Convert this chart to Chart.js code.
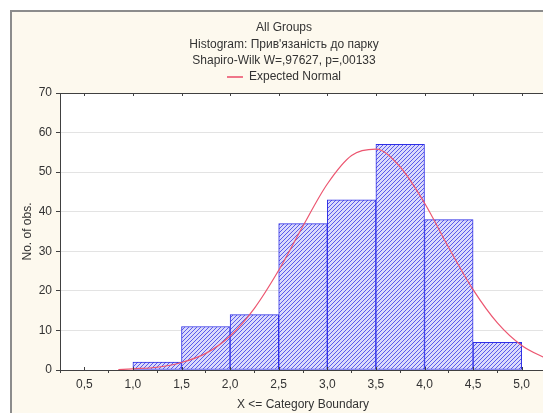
<!DOCTYPE html>
<html>
<head>
<meta charset="utf-8">
<script src="https://cdn.jsdelivr.net/npm/chart.js@4/dist/chart.umd.min.js"></script>
<style>
  html, body { margin: 0; padding: 0; background: #ffffff; overflow: hidden; }
  #wrap { position: absolute; left: 0; top: 0; width: 570px; height: 413px; }
</style>
</head>
<body>
<div id="wrap"><canvas id="c" width="570" height="413"></canvas></div>
<script>
// ---- data ----
const titleLines = ["All Groups", "Histogram: Прив'язаність до парку", "Shapiro-Wilk W=,97627, p=,00133"];
const xAxisTitle = "X <= Category Boundary";
const yAxisTitle = "No. of obs.";
const legendLabel = "Expected Normal";

// histogram: upper category boundary and count of observations
const binUpper = [1.5, 2.0, 2.5, 3.0, 3.5, 4.0, 4.5, 5.0];
const binCounts = [2, 11, 14, 37, 43, 57, 38, 7];
const binWidth = 0.5;

// expected normal curve
const curveX = [0.85, 1.0, 1.25, 1.5, 1.75, 2.0, 2.25, 2.5, 2.75, 3.0, 3.25, 3.5, 3.75, 4.0, 4.25, 4.5, 4.75, 5.0, 5.25];
const curveY = [0.1, 0.3, 0.7, 1.9, 4.2, 8.6, 15.6, 25.2, 36.4, 47.0, 54.2, 55.8, 51.3, 42.2, 30.9, 20.3, 11.9, 6.2, 2.9];

// axis ticks
const xTicks = [0.5, 1.0, 1.5, 2.0, 2.5, 3.0, 3.5, 4.0, 4.5, 5.0];
const yTicks = [0, 10, 20, 30, 40, 50, 60, 70];

// ---- styling ----
const FONT = "'Liberation Sans', Arial, sans-serif";
const TEXT = '#333333';
const FS = 12;
const RED = '#ec5670';

function hatch() {
  const s = 4;
  const c = document.createElement('canvas');
  c.width = s; c.height = s;
  const g = c.getContext('2d');
  g.fillStyle = '#dadafb';
  g.fillRect(0, 0, s, s);
  g.strokeStyle = '#5a5aec';
  g.lineWidth = 1;
  g.beginPath();
  g.moveTo(0, s); g.lineTo(s, 0);
  g.moveTo(-1, 1); g.lineTo(1, -1);
  g.moveTo(s - 1, s + 1); g.lineTo(s + 1, s - 1);
  g.stroke();
  return g.createPattern(c, 'repeat');
}

const framePlugin = {
  id: 'frame',
  beforeDraw(chart) {
    const ctx = chart.ctx, W = chart.width, H = chart.height;
    const a = chart.chartArea;
    ctx.save();
    ctx.fillStyle = '#ffffff';
    ctx.fillRect(0, 0, W, H);
    ctx.fillStyle = '#fdf9ee';
    ctx.fillRect(12, 12, W, H);
    ctx.fillStyle = '#8c8c8c';
    ctx.fillRect(10, 10, 2, H);
    ctx.fillRect(10, 10, W, 2);
    ctx.fillStyle = '#ffffff';
    ctx.fillRect(a.left, a.top, a.right - a.left, a.bottom - a.top);
    ctx.restore();
  },
  afterDraw(chart) {
    const ctx = chart.ctx, a = chart.chartArea, xs = chart.scales.x;
    ctx.save();
    ctx.strokeStyle = '#404040';
    ctx.lineWidth = 1;
    ctx.beginPath();
    ctx.moveTo(a.left, Math.round(a.top) + 0.5);
    ctx.lineTo(a.right, Math.round(a.top) + 0.5);
    for (const v of xTicks) {
      const px = Math.round(xs.getPixelForValue(v)) + 0.5;
      ctx.moveTo(px, a.top);
      ctx.lineTo(px, a.top + 3);
      ctx.moveTo(px, a.bottom);
      ctx.lineTo(px, a.bottom - 3);
    }
    ctx.stroke();
    ctx.restore();
  }
};

const fmt = v => Number(v).toFixed(1).replace('.', ',');

new Chart(document.getElementById('c'), {
  type: 'bar',
  data: {
    datasets: [
      {
        type: 'bar',
        label: 'Histogram',
        data: binUpper.map((u, i) => ({ x: u - binWidth / 2, y: binCounts[i] })),
        backgroundColor: hatch(),
        borderColor: '#2f2fe6',
        borderWidth: 1,
        borderSkipped: false,
        barPercentage: 1,
        categoryPercentage: 1,
        order: 2
      },
      {
        type: 'line',
        label: legendLabel,
        data: curveX.map((x, i) => ({ x: x, y: curveY[i] })),
        borderColor: RED,
        backgroundColor: RED,
        borderWidth: 1.2,
        pointRadius: 0,
        cubicInterpolationMode: 'monotone',
        fill: false,
        order: 1
      }
    ]
  },
  options: {
    responsive: false,
    animation: false,
    devicePixelRatio: 1,
    layout: { padding: { top: 12, left: 12, right: 14, bottom: 0 } },
    plugins: {
      tooltip: { enabled: false },
      title: {
        display: true,
        text: titleLines,
        color: TEXT,
        font: { family: FONT, size: FS, weight: 'normal', lineHeight: 1.375 },
        padding: { top: 7.5, bottom: 0 }
      },
      legend: {
        display: true,
        labels: {
          filter: item => item.text === legendLabel,
          generateLabels: chart => Chart.defaults.plugins.legend.labels.generateLabels(chart)
            .map(l => Object.assign(l, { lineWidth: 1.6, strokeStyle: RED })),
          usePointStyle: true,
          pointStyle: 'line',
          pointStyleWidth: 16,
          color: TEXT,
          font: { family: FONT, size: FS },
          padding: 2
        }
      }
    },
    scales: {
      x: {
        type: 'linear',
        min: 0.25,
        max: 5.25,
        offset: false,
        afterBuildTicks: s => { s.ticks = xTicks.map(v => ({ value: v })); },
        afterFit: s => { s.height = 43; },
        ticks: {
          callback: v => fmt(v),
          color: TEXT,
          font: { family: FONT, size: FS },
          padding: 4,
          maxRotation: 0,
          autoSkip: false
        },
        grid: { drawOnChartArea: false, drawTicks: true, tickLength: 3, tickColor: '#404040' },
        border: { display: true, color: '#404040', width: 1 },
        title: {
          display: true,
          text: xAxisTitle,
          color: TEXT,
          font: { family: FONT, size: FS },
          padding: { top: 0, bottom: 1 }
        }
      },
      y: {
        type: 'linear',
        min: 0,
        max: 70,
        afterBuildTicks: s => { s.ticks = yTicks.map(v => ({ value: v })); },
        afterFit: s => { s.width = 48; },
        ticks: {
          color: TEXT,
          font: { family: FONT, size: FS },
          padding: 4
        },
        grid: { color: '#e3e3e3', tickColor: '#404040', tickLength: 4, drawTicks: true },
        border: { display: true, color: '#404040', width: 1 },
        title: {
          display: true,
          text: yAxisTitle,
          color: TEXT,
          font: { family: FONT, size: FS },
          padding: { top: 8, bottom: 0 }
        }
      },
      yR: {
        type: 'linear',
        position: 'right',
        min: 0,
        max: 1,
        afterFit: s => { s.width = 10; },
        ticks: { display: false },
        grid: { display: false, drawTicks: false },
        border: { display: false }
      }
    }
  },
  plugins: [framePlugin]
});
</script>
</body>
</html>
